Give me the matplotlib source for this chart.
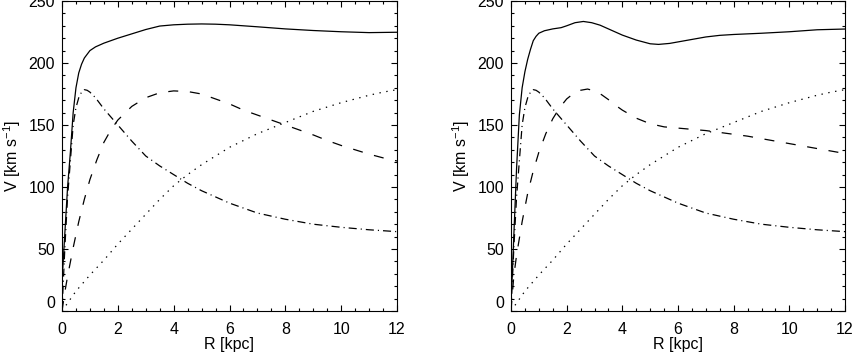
import matplotlib
matplotlib.use("Agg")
import matplotlib.pyplot as plt
from matplotlib.ticker import MultipleLocator

plt.rcParams['font.family'] = ['Liberation Sans', 'DejaVu Sans']
plt.rcParams['mathtext.default'] = 'regular'
plt.rcParams['lines.scale_dashes'] = False

# ---------------- data: left panel ----------------
left_total_R = [0.03, 0.1, 0.2, 0.3, 0.4, 0.5, 0.6, 0.7, 0.8, 1.0, 1.2, 1.5, 2.0, 2.5, 3.0, 3.5,
                4.0, 4.5, 5.0, 5.5, 6.0, 7.0, 8.0, 9.0, 10.0, 11.0, 12.0]
left_total_V = [35, 62, 100, 128, 160, 180, 192, 199, 204, 210, 213, 216, 220, 223.5, 227, 229.8,
                230.8, 231.3, 231.5, 231.3, 230.8, 229.2, 227.5, 226.2, 225.2, 224.5, 224.8]

bulge_R = [0.0, 0.1, 0.2, 0.3, 0.4, 0.5, 0.6, 0.7, 0.8, 0.9, 1.0, 1.2, 1.5, 2.0, 2.5, 3.0, 3.5,
           4.0, 4.5, 5.0, 6.0, 7.0, 8.0, 9.0, 10.0, 11.0, 12.0]
bulge_V = [0, 50, 92, 121, 150, 164, 172, 176.5, 178.5, 178, 176.5, 172, 163, 150, 137, 125, 117,
           110, 103, 97, 87, 79, 74, 70, 67.5, 65.5, 64]

left_disk_R = [0, 0.1, 0.2, 0.4, 0.6, 0.8, 1.0, 1.25, 1.5, 1.75, 2.0, 2.5, 3.0, 3.5, 4.0, 4.5, 5.0,
               5.5, 6.0, 6.5, 7.0, 7.5, 8.0, 8.5, 9.0, 9.5, 10.0, 10.5, 11.0, 11.5, 12.0]
left_disk_V = [0, 15, 28, 51, 72, 90, 106, 122, 136, 146, 154, 165, 172, 176, 177.5, 177, 175,
               171, 167, 162, 158, 154, 150, 146, 142, 137.5, 133.5, 130, 126.5, 123.5, 121]

halo_R = [0, 0.5, 1, 1.5, 2, 2.5, 3, 3.5, 4, 4.5, 5, 5.5, 6, 6.5, 7, 7.5, 8, 8.5, 9, 9.5, 10,
          10.5, 11, 11.5, 12]
halo_V = [0, 16, 29, 41, 54, 66, 78, 90, 101, 110, 118, 125, 132, 137.5, 143, 147.5, 152, 156.5,
          161, 164.5, 168, 171, 174, 176.5, 178.5]

# ---------------- data: right panel ----------------
right_total_R = [0.03, 0.1, 0.2, 0.3, 0.4, 0.5, 0.6, 0.7, 0.8, 0.9, 1.0, 1.2, 1.5, 1.8, 2.0, 2.3,
                 2.6, 2.9, 3.2, 3.6, 4.0, 4.5, 5.0, 5.3, 5.7, 6.0, 6.5, 7.0, 7.5, 8.0, 9.0, 10.0,
                 11.0, 12.0]
right_total_V = [20, 60, 115, 158, 180, 193, 203, 211, 218, 221.5, 224, 226, 227.5, 228.5, 230,
                 232.5, 233.5, 232.5, 230.5, 226.5, 222.5, 218.5, 215.5, 215, 215.8, 217, 219,
                 221, 222.3, 223, 224, 225.2, 226.8, 227.4]

right_disk_R = [0, 0.1, 0.2, 0.4, 0.6, 0.8, 1.0, 1.25, 1.5, 1.75, 2.0, 2.25, 2.5, 2.75, 3.0, 3.25,
                3.5, 3.75, 4.0, 4.5, 5.0, 5.5, 6.0, 6.5, 7.0, 7.5, 8.0, 8.5, 9.0, 9.5, 10.0, 10.5,
                11.0, 11.5, 12.0]
right_disk_V = [0, 28, 45, 72, 95, 113, 128, 143, 155, 164, 171, 175.5, 178, 179, 177.5, 174.5,
                170.5, 166, 162, 155.5, 151, 148.5, 147.5, 146.5, 145.5, 144, 142.5, 141, 139,
                137, 135, 133, 131, 129, 127]

x_ticks = [0, 2, 4, 6, 8, 10, 12]
y_ticks = [0, 50, 100, 150, 200, 250]

DASHED = (0, (7.2, 8.4))
DASHDOT = (0, (5.8, 2.9, 0.8, 2.9))
DOTTED = (0, (1.0, 4.0))

FS = 11.5

fig = plt.figure(figsize=(8.55, 3.54), dpi=100)
ax1 = fig.add_axes([62 / 855, 43 / 354, 335 / 855, 310 / 354])
ax2 = fig.add_axes([511 / 855, 43 / 354, 334 / 855, 310 / 354])

panels = [
    (ax1, left_total_R, left_total_V, left_disk_R, left_disk_V),
    (ax2, right_total_R, right_total_V, right_disk_R, right_disk_V),
]

for ax, tR, tV, dR, dV in panels:
    ax.plot(tR, tV, color='black', lw=0.9, linestyle='-')
    ax.plot(bulge_R, bulge_V, color='black', lw=0.9, linestyle=DASHDOT)
    ax.plot(dR, dV, color='black', lw=0.9, linestyle=DASHED)
    ax.plot(halo_R, halo_V, color='black', lw=0.9, linestyle=DOTTED)

    ax.set_xlim(0, 12)
    ax.set_ylim(0, 250)
    ax.set_xticks(x_ticks)
    ax.set_yticks(y_ticks)
    ax.xaxis.set_minor_locator(MultipleLocator(0.5))
    ax.yaxis.set_minor_locator(MultipleLocator(10))
    ax.tick_params(which='both', direction='in', top=True, right=True, labelsize=FS,
                   width=0.8, color='black')
    ax.tick_params(which='major', length=4.5)
    ax.tick_params(which='minor', length=2.3)
    ax.tick_params(axis='x', which='major', pad=8)
    ax.tick_params(axis='y', which='major', pad=5)
    for s in ax.spines.values():
        s.set_linewidth(0.8)
    ax.set_xlabel('R [kpc]', fontsize=FS, labelpad=0)
    ax.set_ylabel('V [km s$^{-1}$]', fontsize=FS, labelpad=4)
    # raise the "0" label slightly above the bottom axis, as in the reference
    ax.yaxis.get_major_ticks()[0].label1.set_verticalalignment('bottom')

fig.savefig('out.png', dpi=100)
